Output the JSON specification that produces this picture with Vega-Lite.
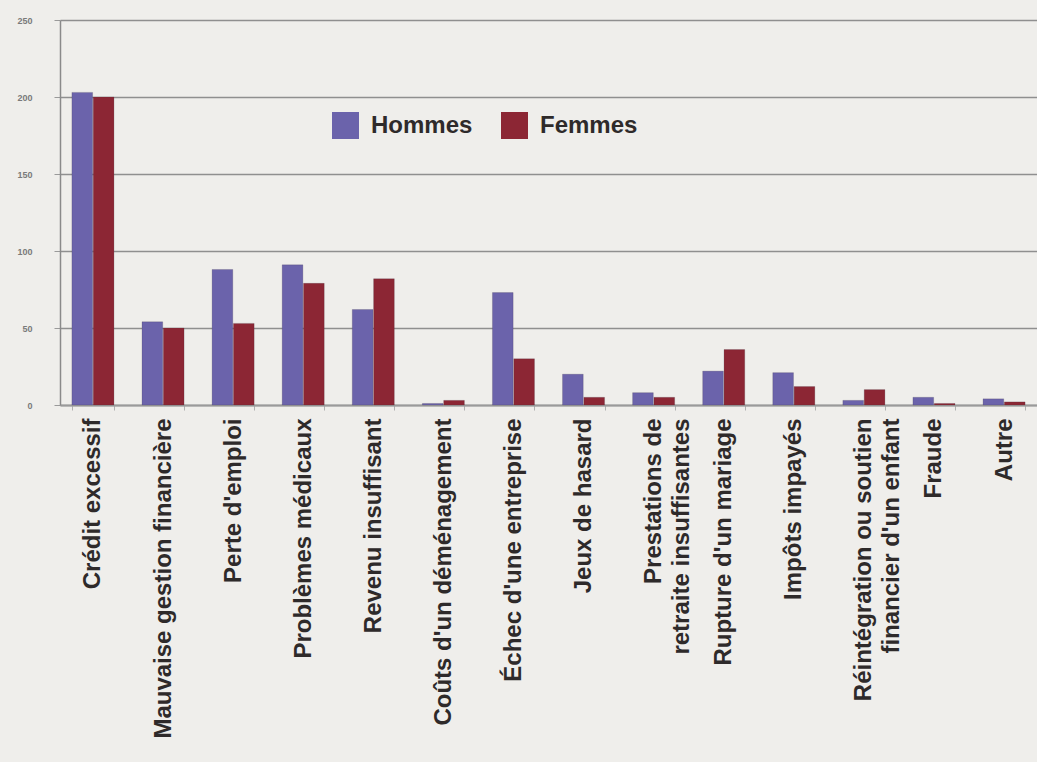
{
  "$schema": "https://vega.github.io/schema/vega-lite/v6.json",
  "width": 977,
  "height": 385,
  "autosize": {"type": "none"},
  "padding": {"left": 60, "top": 20, "right": 0, "bottom": 357},
  "background": "#efeeeb",
  "config": {
    "view": {"stroke": null},
    "font": "Liberation Sans"
  },
  "data": {
    "values": [
      {"cause": "Crédit excessif", "sexe": "Hommes", "n": 203},
      {"cause": "Crédit excessif", "sexe": "Femmes", "n": 200},
      {"cause": "Mauvaise gestion financière", "sexe": "Hommes", "n": 54},
      {"cause": "Mauvaise gestion financière", "sexe": "Femmes", "n": 50},
      {"cause": "Perte d'emploi", "sexe": "Hommes", "n": 88},
      {"cause": "Perte d'emploi", "sexe": "Femmes", "n": 53},
      {"cause": "Problèmes médicaux", "sexe": "Hommes", "n": 91},
      {"cause": "Problèmes médicaux", "sexe": "Femmes", "n": 79},
      {"cause": "Revenu insuffisant", "sexe": "Hommes", "n": 62},
      {"cause": "Revenu insuffisant", "sexe": "Femmes", "n": 82},
      {"cause": "Coûts d'un déménagement", "sexe": "Hommes", "n": 1},
      {"cause": "Coûts d'un déménagement", "sexe": "Femmes", "n": 3},
      {"cause": "Échec d'une entreprise", "sexe": "Hommes", "n": 73},
      {"cause": "Échec d'une entreprise", "sexe": "Femmes", "n": 30},
      {"cause": "Jeux de hasard", "sexe": "Hommes", "n": 20},
      {"cause": "Jeux de hasard", "sexe": "Femmes", "n": 5},
      {"cause": "Prestations de retraite insuffisantes", "sexe": "Hommes", "n": 8},
      {"cause": "Prestations de retraite insuffisantes", "sexe": "Femmes", "n": 5},
      {"cause": "Rupture d'un mariage", "sexe": "Hommes", "n": 22},
      {"cause": "Rupture d'un mariage", "sexe": "Femmes", "n": 36},
      {"cause": "Impôts impayés", "sexe": "Hommes", "n": 21},
      {"cause": "Impôts impayés", "sexe": "Femmes", "n": 12},
      {"cause": "Réintégration ou soutien financier d'un enfant", "sexe": "Hommes", "n": 3},
      {"cause": "Réintégration ou soutien financier d'un enfant", "sexe": "Femmes", "n": 10},
      {"cause": "Fraude", "sexe": "Hommes", "n": 5},
      {"cause": "Fraude", "sexe": "Femmes", "n": 1},
      {"cause": "Autre", "sexe": "Hommes", "n": 4},
      {"cause": "Autre", "sexe": "Femmes", "n": 2}
    ]
  },
  "mark": {"type": "bar", "stroke": "#3a3040", "strokeWidth": 0.4, "strokeOpacity": 0.5},
  "encoding": {
    "x": {
      "field": "cause",
      "type": "nominal",
      "sort": null,
      "title": null,
      "scale": {"paddingInner": 0.4, "paddingOuter": 0.17},
      "axis": {
        "labelAngle": -90,
        "labelFont": "Liberation Sans",
        "labelFontWeight": "bold",
        "labelFontSize": 24,
        "labelColor": "#2e2a2a",
        "labelPadding": 8,
        "labelLimit": 400,
        "labelLineHeight": 28,
        "labelExpr": "datum.label == 'Prestations de retraite insuffisantes' ? ['Prestations de', 'retraite insuffisantes'] : datum.label == \"Réintégration ou soutien financier d'un enfant\" ? ['Réintégration ou soutien', \"financier d'un enfant\"] : datum.label",
        "domainColor": "#9a9a9a",
        "domainWidth": 2,
        "tickColor": "#b0b0b0",
        "tickSize": 5,
        "tickBand": "extent",
        "grid": false
      }
    },
    "xOffset": {"field": "sexe", "type": "nominal", "sort": ["Hommes", "Femmes"], "scale": {"paddingInner": 0.03}},
    "y": {
      "field": "n",
      "type": "quantitative",
      "title": null,
      "scale": {"domain": [0, 250], "nice": false},
      "axis": {
        "values": [0, 50, 100, 150, 200, 250],
        "labelFontSize": 9,
        "labelFontWeight": "bold",
        "labelColor": "#7a7a7a",
        "labelPadding": 22,
        "tickSize": 6,
        "tickColor": "#9a9a9a",
        "domainColor": "#8a8a8a",
        "domainWidth": 1.5,
        "gridColor": "#8f8f8f",
        "gridWidth": 1.5
      }
    },
    "color": {
      "field": "sexe",
      "type": "nominal",
      "sort": ["Hommes", "Femmes"],
      "scale": {"domain": ["Hommes", "Femmes"], "range": ["#6b63ab", "#8c2634"]},
      "legend": {
        "title": null,
        "orient": "none",
        "legendX": 272,
        "legendY": 92,
        "direction": "horizontal",
        "symbolType": "square",
        "symbolSize": 729,
        "symbolStrokeWidth": 0,
        "symbolOpacity": 1,
        "labelFontSize": 24,
        "labelFontWeight": "bold",
        "labelColor": "#2e2a2a",
        "labelOffset": 12,
        "columnPadding": 28
      }
    }
  }
}
